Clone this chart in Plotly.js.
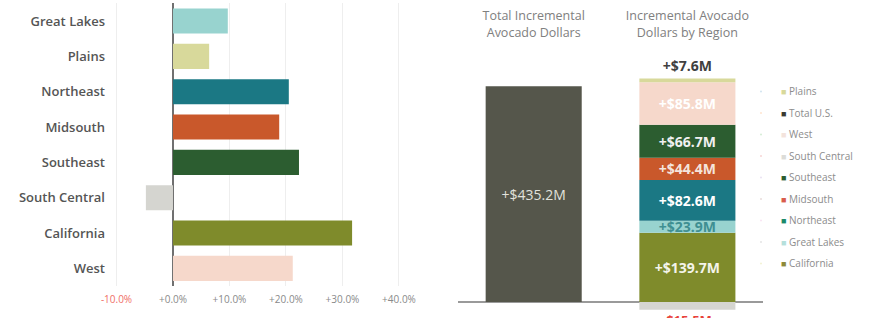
<!DOCTYPE html>
<html>
<head>
<meta charset="utf-8">
<script src="https://cdn.plot.ly/plotly-3.0.1.min.js"></script>
<style>html,body{margin:0;padding:0;background:#fff;}#chart{width:869px;height:318px;}</style>
</head>
<body>
<div id="chart"></div>
<script>
// ---- Left chart: % change by region ----
const regionCategories = ['Great Lakes', 'Plains', 'Northeast', 'Midsouth', 'Southeast', 'South Central', 'California', 'West'];
const regionPctChange = [9.7, 6.4, 20.5, 18.8, 22.3, -4.8, 31.7, 21.2];
const pctTickVals = [-10, 0, 10, 20, 30, 40];
const pctTickLabels = ['-10.0%', '+0.0%', '+10.0%', '+20.0%', '+30.0%', '+40.0%'];

// ---- Right chart: incremental dollars ----
const barColumns = ['Total Incremental<br>Avocado Dollars', 'Incremental Avocado<br>Dollars by Region'];
const totalName = 'Total U.S.';
const totalValue = 435.2;
const totalLabel = '+$435.2M';
const stackRegions = ['California', 'Great Lakes', 'Northeast', 'Midsouth', 'Southeast', 'South Central', 'West', 'Plains'];
const stackValues = [139.7, 23.9, 82.6, 44.4, 66.7, -15.5, 85.8, 7.6];
const stackLabels = ['+$139.7M', '+$23.9M', '+$82.6M', '+$44.4M', '+$66.7M', '-$15.5M', '+$85.8M', '+$7.6M'];
const legendOrder = ['Plains', 'Total U.S.', 'West', 'South Central', 'Southeast', 'Midsouth', 'Northeast', 'Great Lakes', 'California'];

// ---- styles ----
const colorMap = {
  'Great Lakes': '#98d3cf',
  'Plains': '#d8d99b',
  'Northeast': '#1b7884',
  'Midsouth': '#c9582b',
  'Southeast': '#2c5d30',
  'South Central': '#d5d5d0',
  'California': '#7f8b2b',
  'West': '#f6d8cb',
  'Total U.S.': '#55564b'
};
const labelColorMap = {
  'Great Lakes': '#3f8f92',
  'Plains': '#404040',
  'Northeast': '#ffffff',
  'Midsouth': '#f4e4dc',
  'Southeast': '#f0f0f0',
  'South Central': '#e8423a',
  'California': '#f4f4ea',
  'West': '#ffffff'
};
const legendColorMap = {
  'Plains': '#d8d99b', 'Total U.S.': '#3a3b33', 'West': '#f3e3dc', 'South Central': '#dcdcd8',
  'Southeast': '#2c5d30', 'Midsouth': '#d95c4c', 'Northeast': '#1b8a6a', 'Great Lakes': '#b5e0dc', 'California': '#8e8a3a'
};

const traces = [];

traces.push({
  type: 'bar', orientation: 'h',
  y: regionCategories, x: regionPctChange,
  marker: { color: regionCategories.map(c => colorMap[c]) },
  xaxis: 'x', yaxis: 'y', showlegend: false, hoverinfo: 'x+y'
});

traces.push({
  type: 'bar', name: totalName, legendgroup: totalName,
  x: [barColumns[0]], y: [totalValue], text: [totalLabel],
  textposition: 'inside', insidetextanchor: 'middle', constraintext: 'none',
  textfont: { family: 'Open Sans, sans-serif', size: 14, color: '#e2e2dc' },
  marker: { color: colorMap[totalName] }, width: 0.625,
  xaxis: 'x2', yaxis: 'y2', showlegend: false, cliponaxis: false
});

const annotations = [];
stackRegions.forEach((r, i) => {
  const negative = stackValues[i] < 0;
  const outside = (r === 'Plains');
  traces.push({
    type: 'bar', name: r, legendgroup: r,
    x: [barColumns[1]], y: [stackValues[i]], text: negative ? [''] : [stackLabels[i]],
    textposition: outside ? 'outside' : 'inside', insidetextanchor: 'middle', constraintext: 'none',
    textfont: { family: 'Open Sans, sans-serif', size: 14, weight: 700, color: labelColorMap[r] },
    marker: { color: colorMap[r] }, width: 0.625,
    xaxis: 'x2', yaxis: 'y2', showlegend: false, cliponaxis: false
  });
  if (negative) {
    annotations.push({
      xref: 'x2', yref: 'y2', x: barColumns[1], y: stackValues[i],
      text: stackLabels[i], showarrow: false, yanchor: 'top', yshift: 1,
      font: { family: 'Open Sans, sans-serif', size: 13, weight: 700, color: labelColorMap[r] }
    });
  }
});

legendOrder.forEach(r => {
  traces.push({
    type: 'scatter', mode: 'markers', x: [null], y: [null],
    xaxis: 'x2', yaxis: 'y2', legendgroup: r,
    name: '<span style="color:' + legendColorMap[r] + ';font-size:9px">■</span> ' + r,
    marker: { opacity: 0, size: 1 }, showlegend: true, hoverinfo: 'skip'
  });
});

const layout = {
  width: 869, height: 318,
  margin: { l: 0, r: 0, t: 0, b: 0 },
  paper_bgcolor: '#ffffff', plot_bgcolor: 'rgba(0,0,0,0)',
  barmode: 'relative', bargap: 0.29,
  showlegend: true,
  font: { family: 'Open Sans, sans-serif', color: '#666' },
  annotations: annotations,
  xaxis: {
    domain: [110 / 869, 410 / 869], range: [-11.15, 41.95],
    tickvals: pctTickVals,
    ticktext: pctTickLabels.map((t, i) => pctTickVals[i] < 0 ? '<span style="color:#f07068">' + t + '</span>' : t),
    tickfont: { size: 10, color: '#8a8a8a' }, ticklabelstandoff: 6,
    showgrid: true, gridcolor: '#eeeeee', gridwidth: 1,
    zeroline: true, zerolinecolor: '#707070', zerolinewidth: 1.5,
    showline: false, fixedrange: true, anchor: 'y'
  },
  yaxis: {
    domain: [(318 - 286) / 318, (318 - 3.4) / 318],
    type: 'category', autorange: 'reversed',
    tickfont: { family: 'Open Sans, sans-serif', size: 13, weight: 600, color: '#555555' },
    ticklabelstandoff: 4,
    showgrid: false, zeroline: false, showline: false, fixedrange: true, anchor: 'x'
  },
  xaxis2: {
    domain: [458 / 869, 763 / 869], type: 'category',
    categoryarray: barColumns, range: [-0.4925, 1.492],
    side: 'top', tickfont: { size: 12.5, color: '#808080' }, ticklabelstandoff: 8,
    showgrid: false, zeroline: false, showline: false, ticks: '', fixedrange: true, anchor: 'y2'
  },
  yaxis2: {
    domain: [0, (318 - 48) / 318], range: [-32.26, 512.1],
    showticklabels: false, showgrid: false, ticks: '',
    zeroline: true, zerolinecolor: '#9a9a9a', zerolinewidth: 1.2,
    showline: false, fixedrange: true, anchor: 'x2'
  },
  legend: {
    x: (781 - 40) / 869, xanchor: 'left', y: 1 - 77 / 318, yanchor: 'top',
    traceorder: 'grouped', tracegroupgap: 2.5,
    font: { size: 10, color: '#8c8c8c' }, bgcolor: 'rgba(0,0,0,0)'
  }
};

Plotly.newPlot('chart', traces, layout, { displayModeBar: false, staticPlot: true });
</script>
</body>
</html>
